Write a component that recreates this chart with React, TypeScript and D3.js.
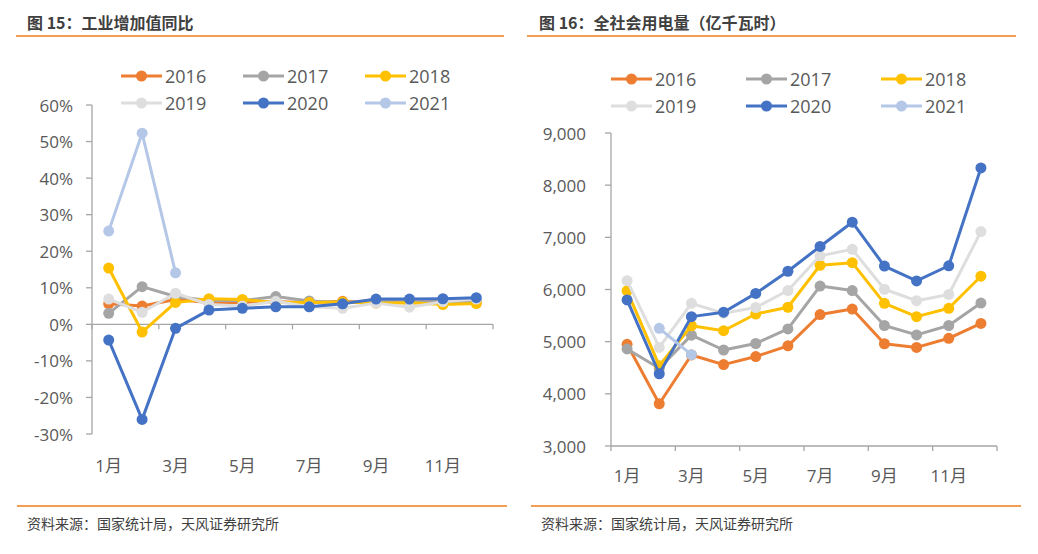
import React from "react";
import * as d3 from "d3";

const months = ["1月","2月","3月","4月","5月","6月","7月","8月","9月","10月","11月","12月"];
const years = ["2016","2017","2018","2019","2020","2021"];
const colors = ["#ED7D31","#A5A5A5","#FFC000","#DEDEDE","#4472C4","#B4C7E7"];

// 图15 工业增加值同比 (%)
const ind2016 = [5.6,5.0,6.8,6.0,6.0,6.2,6.0,6.3,6.1,6.1,6.2,6.0];
const ind2017 = [3.0,10.3,7.6,6.5,6.5,7.6,6.4,6.0,6.6,6.2,6.1,6.2];
const ind2018 = [15.4,-2.1,6.0,7.0,6.8,6.0,6.0,6.1,5.8,5.9,5.4,5.7];
const ind2019 = [6.9,3.3,8.5,5.4,5.0,6.3,4.8,4.4,5.8,4.7,6.2,6.9];
const ind2020 = [-4.3,-26.0,-1.1,3.9,4.4,4.8,4.8,5.6,6.9,6.9,7.0,7.3];
const ind2021 = [25.5,52.3,14.1,null,null,null,null,null,null,null,null,null];
const indTicks = [-30,-20,-10,0,10,20,30,40,50,60];

// 图16 全社会用电量 (亿千瓦时)
const ele2016 = [4950,3810,4745,4560,4715,4920,5520,5625,4960,4890,5065,5350];
const ele2017 = [4860,4490,5125,4840,4965,5245,6065,5980,5310,5130,5310,5740];
const ele2018 = [5975,4540,5305,5210,5530,5660,6465,6515,5735,5480,5640,6255];
const ele2019 = [6170,4890,5735,5545,5655,5980,6645,6770,6005,5785,5905,7110];
const ele2020 = [5800,4385,5480,5565,5925,6350,6825,7290,6450,6165,6455,8330];
const ele2021 = [null,5255,4750,null,null,null,null,null,null,null,null,null];
const eleTicks = [3000,4000,5000,6000,7000,8000,9000];

const NUM_FONT = "'Open Sans','Noto Sans CJK SC',sans-serif";
const CJK_FONT = "'Noto Sans CJK SC',sans-serif";
const ORANGE = "#F07D1A";
const AXIS = "#A6A6A6";
const TXT = "#595959";

type Panel = {
  title: string;
  series: (number | null)[][];
  ticks: number[];
  fmt: (v: number) => string;
  x0: number; x1: number;
  yTop: number; yBot: number;
  dom: [number, number];
  xAxisVal: number;
  labelRight: number;
  monthY: number;
  legendX: number; legendY: number; legendDY: number; legendCol: number;
  titleX: number; headL: number; headR: number; footL: number; footR: number; srcX: number;
};

function ChartPanel({ p }: { p: Panel }) {
  const x = d3.scalePoint<string>().domain(months).range([p.x0, p.x1]).padding(0.5);
  const step = x.step();
  const y = d3.scaleLinear().domain(p.dom).range([p.yBot, p.yTop]);
  const line = d3
    .line<number | null>()
    .defined((d) => d !== null)
    .x((_, i) => x(months[i]) as number)
    .y((d) => y(d as number));
  const axisY = y(p.xAxisVal);
  const xTicks = d3.range(0, 7).map((k) => p.x0 + k * 2 * step);
  return (
    <g>
      <text x={p.titleX} y={22} fontFamily={CJK_FONT} fontWeight="bold" fontSize={16} fill="#404040" dominantBaseline="central">
        {p.title}
      </text>
      <line x1={p.headL} x2={p.headR} y1={36} y2={36} stroke={ORANGE} strokeWidth={1.5} />
      {/* legend */}
      {years.map((yr, i) => {
        const col = i % 3;
        const row = Math.floor(i / 3);
        const lx = p.legendX + col * p.legendCol;
        const ly = p.legendY + row * p.legendDY;
        return (
          <g key={yr}>
            <line x1={lx} x2={lx + 41} y1={ly} y2={ly} stroke={colors[i]} strokeWidth={3} />
            <circle cx={lx + 20.5} cy={ly} r={5.5} fill={colors[i]} />
            <text x={lx + 44} y={ly} fontFamily={NUM_FONT} fontSize={18} fill={TXT} dominantBaseline="central">
              {yr}
            </text>
          </g>
        );
      })}
      {/* y axis */}
      <line x1={p.x0} x2={p.x0} y1={p.yTop} y2={p.yBot} stroke={AXIS} strokeWidth={1.3} />
      {p.ticks.map((t) => (
        <g key={t}>
          <line x1={p.x0 - 6} x2={p.x0} y1={y(t)} y2={y(t)} stroke={AXIS} strokeWidth={1.3} />
          <text x={p.labelRight} y={y(t)} textAnchor="end" fontFamily={NUM_FONT} fontSize={17} fill={TXT} dominantBaseline="central">
            {p.fmt(t)}
          </text>
        </g>
      ))}
      {/* x axis */}
      <line x1={p.x0} x2={p.x1} y1={axisY} y2={axisY} stroke={AXIS} strokeWidth={1.3} />
      {xTicks.map((tx, k) => (
        <line key={k} x1={tx} x2={tx} y1={axisY} y2={axisY + 5} stroke={AXIS} strokeWidth={1.3} />
      ))}
      {months.map((m, i) =>
        i % 2 === 0 ? (
          <text key={m} x={x(m) as number} y={p.monthY} textAnchor="middle" fontFamily={NUM_FONT} fontSize={17} fill={TXT} dominantBaseline="central">
            {m}
          </text>
        ) : null
      )}
      {/* series */}
      {p.series.map((s, si) => (
        <g key={si}>
          <path d={line(s) || ""} fill="none" stroke={colors[si]} strokeWidth={3} strokeLinejoin="round" />
          {s.map((v, i) =>
            v === null ? null : <circle key={i} cx={x(months[i]) as number} cy={y(v)} r={5.5} fill={colors[si]} />
          )}
        </g>
      ))}
      <line x1={p.footL} x2={p.footR} y1={506} y2={506} stroke={ORANGE} strokeWidth={1.5} />
      <text x={p.srcX} y={523} fontFamily={CJK_FONT} fontSize={14} fill="#404040" dominantBaseline="central">
        资料来源：国家统计局，天风证券研究所
      </text>
    </g>
  );
}

const leftPanel: Panel = {
  title: "图 15：工业增加值同比",
  series: [ind2016, ind2017, ind2018, ind2019, ind2020, ind2021],
  ticks: indTicks,
  fmt: (v) => `${v}%`,
  x0: 92, x1: 493, yTop: 105, yBot: 434, dom: [-30, 60], xAxisVal: 0,
  labelRight: 73, monthY: 465,
  legendX: 121, legendY: 76, legendDY: 27, legendCol: 122,
  titleX: 27, headL: 16, headR: 504, footL: 17, footR: 507, srcX: 27,
};

const rightPanel: Panel = {
  title: "图 16：全社会用电量（亿千瓦时）",
  series: [ele2016, ele2017, ele2018, ele2019, ele2020, ele2021],
  ticks: eleTicks,
  fmt: (v) => d3.format(",")(v),
  x0: 611, x1: 997, yTop: 133, yBot: 446, dom: [3000, 9000], xAxisVal: 3000,
  labelRight: 586, monthY: 475,
  legendX: 611, legendY: 79, legendDY: 27, legendCol: 135,
  titleX: 539, headL: 527, headR: 1016, footL: 531, footR: 1021, srcX: 541,
};

export default function App() {
  return (
    <svg width={1038} height={554} style={{ position: "absolute", left: 0, top: 0, background: "#fff" }}>
      <rect width={1038} height={554} fill="#fff" />
      <ChartPanel p={leftPanel} />
      <ChartPanel p={rightPanel} />
    </svg>
  );
}
